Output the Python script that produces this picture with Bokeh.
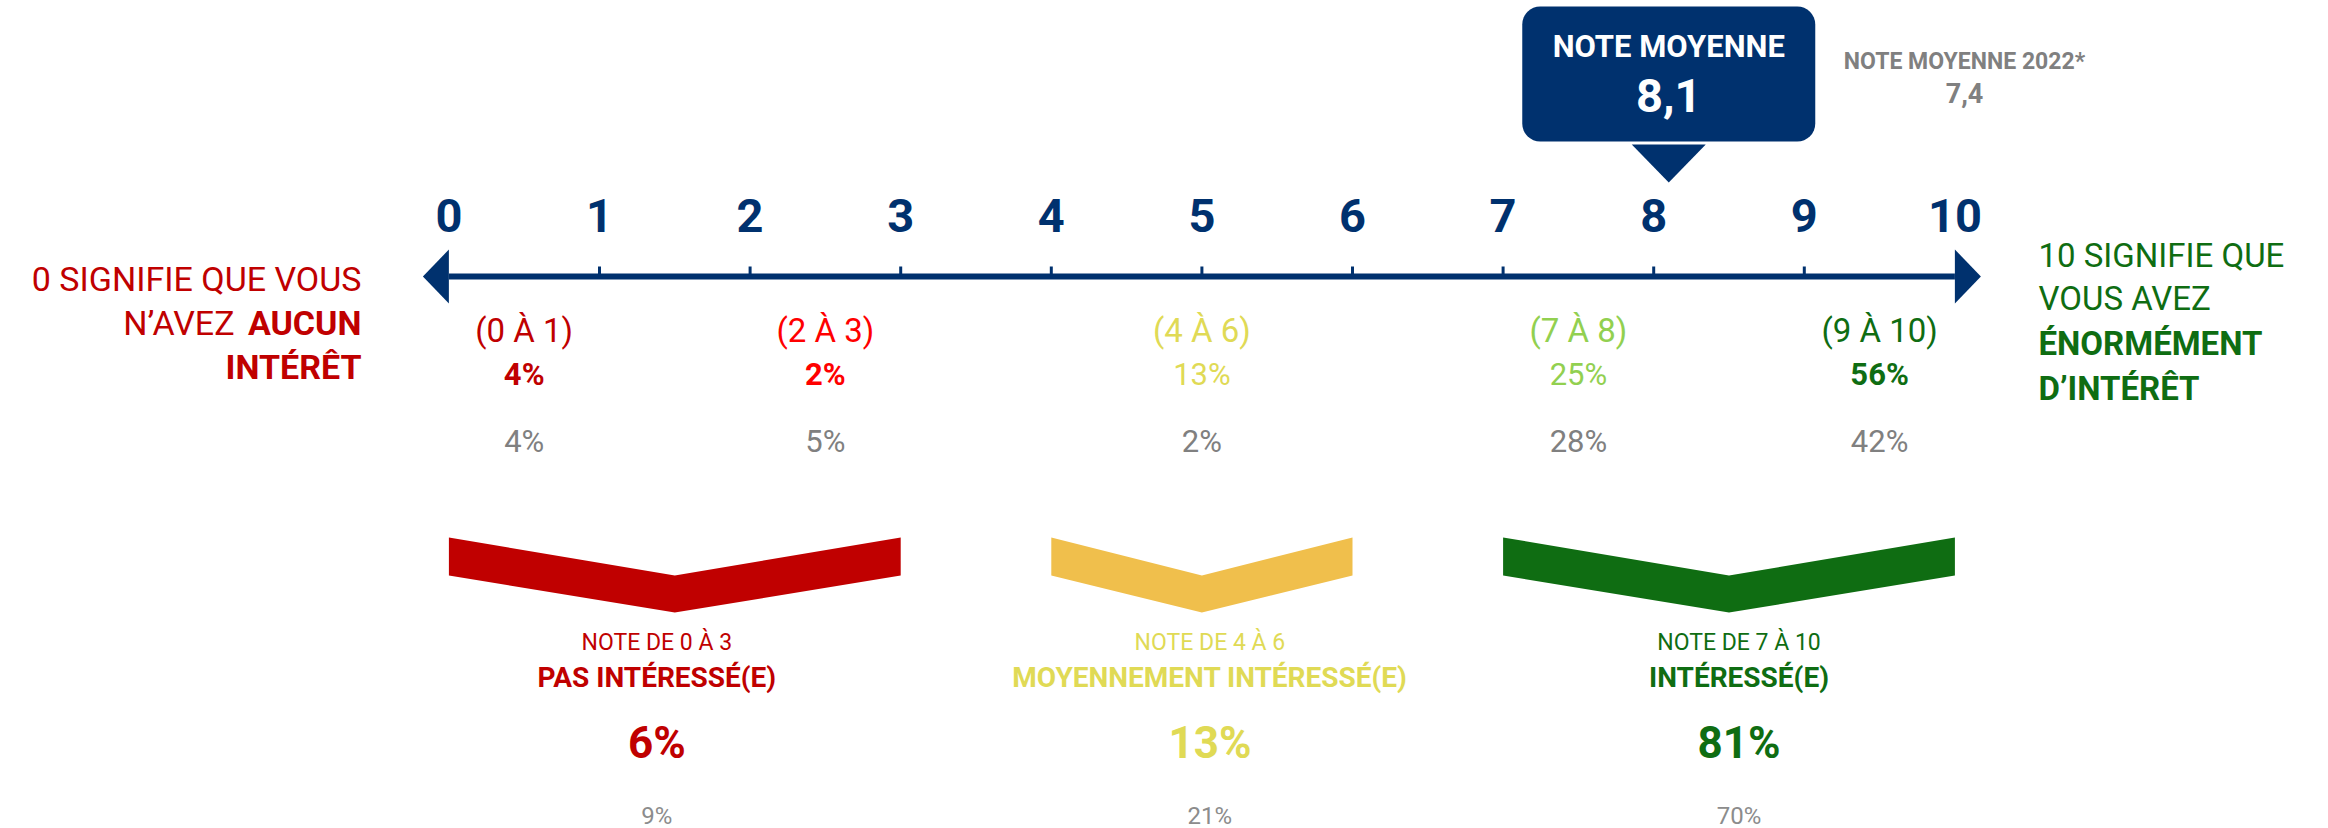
from bokeh.plotting import figure
from bokeh.models import Range1d
from bokeh.core.properties import value
from bokeh.embed import file_html
from bokeh.resources import INLINE

# ---------------- data ----------------
scale_ticks = [0, 1, 2, 3, 4, 5, 6, 7, 8, 9, 10]
mean_2024 = 8.1
mean_2024_label = "8,1"
mean_2022_label = "7,4"
mean_title = "NOTE MOYENNE"
mean_2022_title = "NOTE MOYENNE 2022*"

detail_labels = ["(0 À 1)", "(2 À 3)", "(4 À 6)", "(7 À 8)", "(9 À 10)"]
detail_lo = [0, 2, 4, 7, 9]
detail_hi = [1, 3, 6, 8, 10]
detail_2024 = [4, 2, 13, 25, 56]
detail_2022 = [4, 5, 2, 28, 42]

group_names = ["PAS INTÉRESSÉ(E)", "MOYENNEMENT INTÉRESSÉ(E)", "INTÉRESSÉ(E)"]
group_lo = [0, 4, 7]
group_hi = [3, 6, 10]
group_2024 = [6, 13, 81]
group_2022 = [9, 21, 70]

left_lines = ["0 SIGNIFIE QUE VOUS", "N’AVEZ", "AUCUN", "INTÉRÊT"]
right_lines = ["10 SIGNIFIE QUE", "VOUS AVEZ", "ÉNORMÉMENT", "D’INTÉRÊT"]

# ---------------- styles / layout ----------------
NAVY = "#00316E"
GRAY = "#808080"
GRAY_LIGHT = "#8C8C8C"
DARK_RED = "#C00000"
RED = "#FF0000"
YELLOW_TXT = "#E0DA55"
YELLOW_CHEV = "#F0BF4C"
LIGHT_GREEN = "#92D050"
DARK_GREEN = "#0F6D12"
detail_colors = [DARK_RED, RED, YELLOW_TXT, LIGHT_GREEN, DARK_GREEN]
detail_weights = ["bold", "bold", "normal", "normal", "bold"]
group_text_colors = [DARK_RED, YELLOW_TXT, DARK_GREEN]
group_chev_colors = [DARK_RED, YELLOW_CHEV, DARK_GREEN]
group_text_shift_px = [-18, 8, 10]
FONT = value("Roboto")

W, H = 2328, 828
X0_PX = 448.4      # x of scale value 0
STEP = 150.6       # pixels per scale unit


def Y(py):
    return H - py


def DX(px):
    return px / STEP


def X(px):
    return (px - X0_PX) / STEP


p = figure(width=W, height=H,
           x_range=Range1d(-X0_PX / STEP, (W - X0_PX) / STEP),
           y_range=Range1d(0, H),
           output_backend="svg", toolbar_location=None,
           x_axis_location=None, y_axis_location=None,
           min_border=0, outline_line_color=None)
p.grid.visible = False
p.background_fill_color = "white"
p.border_fill_color = "white"


def txt(xs, centers, texts, size, color, style="normal", align="center"):
    n = len(texts)
    if not isinstance(centers, list):
        centers = [centers] * n
    ys = [Y(c) for c in centers]
    p.text(x=xs, y=ys, text=texts, text_font=FONT,
           text_font_size=f"{size}px", text_color=color,
           text_font_style=style, text_align=align,
           text_baseline="alphabetic")


# ---------------- callout: average score ----------------
half_w = DX(146.5)
p.quad(left=[mean_2024 - half_w], right=[mean_2024 + half_w],
       top=[Y(6)], bottom=[Y(141)], border_radius=18,
       fill_color=NAVY, line_color=None)
p.patch(x=[mean_2024 - DX(37), mean_2024 + DX(37), mean_2024],
        y=[Y(144), Y(144), Y(182)], fill_color=NAVY, line_color=None)
txt([mean_2024], 46, [mean_title], 31, "white", "bold")
txt([mean_2024], 95, [mean_2024_label], 47, "white", "bold")

txt([X(1964)], 61, [mean_2022_title], 23, GRAY, "bold")
txt([X(1964)], 92, [mean_2022_label], 27, GRAY, "bold")

# ---------------- scale axis ----------------
lo, hi = scale_ticks[0], scale_ticks[-1]
p.segment(x0=[lo], x1=[hi], y0=[Y(276)], y1=[Y(276)],
          line_width=6, line_color=NAVY)
p.segment(x0=scale_ticks[1:-1], x1=scale_ticks[1:-1],
          y0=[Y(276)] * 9, y1=[Y(266)] * 9, line_width=3, line_color=NAVY)
p.patches(xs=[[lo, lo, lo - DX(26)], [hi, hi, hi + DX(26)]],
          ys=[[Y(249), Y(303), Y(276)], [Y(249), Y(303), Y(276)]],
          fill_color=NAVY, line_color=None)
txt(scale_ticks, 215, [str(t) for t in scale_ticks], 47, NAVY, "bold")

# ---------------- side texts ----------------
txt([X(361)], 278, [left_lines[0]], 34, DARK_RED, "normal", "right")
txt([X(234)], 322, [left_lines[1]], 34, DARK_RED, "normal", "right")
txt([X(361)], 322, [left_lines[2]], 34, DARK_RED, "bold", "right")
txt([X(361)], 366, [left_lines[3]], 34, DARK_RED, "bold", "right")

txt([X(2038)] * 2, [255, 298], right_lines[:2], 33, DARK_GREEN, "normal", "left")
txt([X(2038)] * 2, [343, 388], right_lines[2:], 33, DARK_GREEN, "bold", "left")

# ---------------- detail groups ----------------
d_centers = [(a + b) / 2 for a, b in zip(detail_lo, detail_hi)]
txt(d_centers, 330, detail_labels, 33, detail_colors, "normal")
txt(d_centers, 374, [f"{v}%" for v in detail_2024], 31, detail_colors, detail_weights)
txt(d_centers, 441, [f"{v}%" for v in detail_2022], 31, GRAY, "normal")

# ---------------- chevrons and summary groups ----------------
for a, b, c in zip(group_lo, group_hi, group_chev_colors):
    m = (a + b) / 2
    p.patch(x=[a, m, b, b, m, a],
            y=[Y(537), Y(575), Y(537), Y(575), Y(612), Y(575)],
            fill_color=c, line_color=None)

g_centers = [(a + b) / 2 + DX(s) for a, b, s in zip(group_lo, group_hi, group_text_shift_px)]
txt(g_centers, 642, [f"NOTE DE {a} À {b}" for a, b in zip(group_lo, group_hi)],
    23, group_text_colors, "normal")
txt(g_centers, 677, group_names, 28, group_text_colors, "bold")
txt(g_centers, 742, [f"{v}%" for v in group_2024], 44, group_text_colors, "bold")
txt(g_centers, 815, [f"{v}%" for v in group_2022], 24, GRAY_LIGHT, "normal")

open("out.html", "w").write(file_html(p, INLINE))
